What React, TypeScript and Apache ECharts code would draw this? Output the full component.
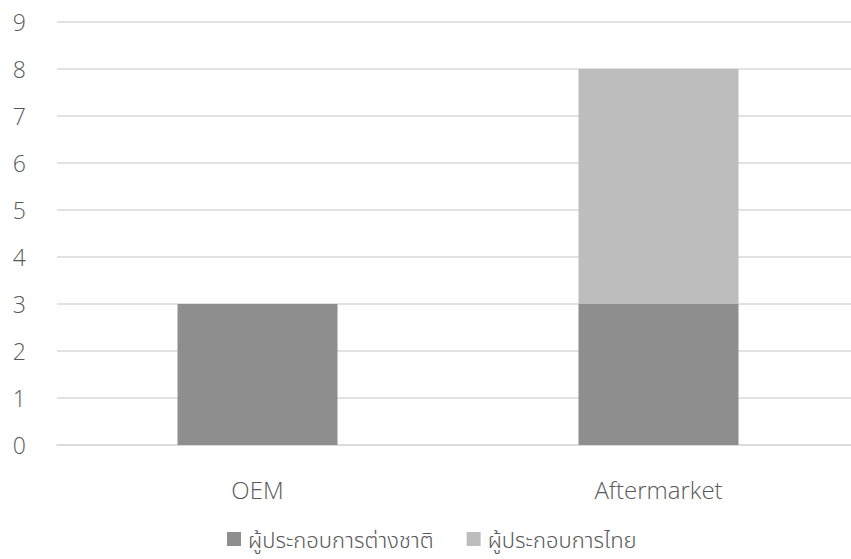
import React, { useEffect, useRef } from "react";
import * as echarts from "echarts";

const categories = ["OEM", "Aftermarket"];
const foreignOperators = [3, 3];
const thaiOperators = [0, 5];
const seriesNames = ["ผู้ประกอบการต่างชาติ", "ผู้ประกอบการไทย"];

const FONT = "'Open Sans', 'Noto Sans', 'Noto Sans Thai', 'Loma', 'Garuda', sans-serif";
const TEXT = "#595959";

export default function App() {
  const ref = useRef<HTMLDivElement>(null);

  useEffect(() => {
    if (!ref.current) return;
    const chart = echarts.init(ref.current, null, { renderer: "svg" });
    chart.setOption({
      animation: false,
      backgroundColor: "#ffffff",
      textStyle: { fontFamily: FONT },
      grid: { left: 57, right: 0, top: 22, bottom: 114, containLabel: false },
      legend: {
        bottom: 4,
        left: 222,
        itemWidth: 14,
        itemHeight: 14,
        itemGap: 33,
        icon: "rect",
        textStyle: { color: TEXT, fontSize: 22, fontFamily: FONT, fontWeight: 300, padding: [0, 0, 0, 2] },
        data: seriesNames,
      },
      xAxis: {
        type: "category",
        data: categories,
        axisLine: { lineStyle: { color: "#d9d9d9", width: 1.5 } },
        axisTick: { show: false },
        axisLabel: { color: TEXT, fontSize: 24, margin: 32, fontWeight: 300 },
      },
      yAxis: {
        type: "value",
        min: 0,
        max: 9,
        interval: 1,
        axisLine: { show: false },
        axisTick: { show: false },
        splitLine: { lineStyle: { color: "#d9d9d9", width: 1.5 } },
        axisLabel: { color: TEXT, fontSize: 23, margin: 31, fontWeight: 300 },
      },
      series: [
        {
          name: seriesNames[0],
          type: "bar",
          stack: "total",
          barWidth: 160,
          data: foreignOperators,
          itemStyle: { color: "#8e8e8e" },
        },
        {
          name: seriesNames[1],
          type: "bar",
          stack: "total",
          barWidth: 160,
          data: thaiOperators,
          itemStyle: { color: "#bdbdbd" },
        },
      ],
    });
    return () => chart.dispose();
  }, []);

  return (
    <div style={{ position: "fixed", left: 0, top: 0, width: 851, height: 559, overflow: "hidden", background: "#fff" }}>
      <div ref={ref} style={{ width: 859, height: 559 }} />
    </div>
  );
}
